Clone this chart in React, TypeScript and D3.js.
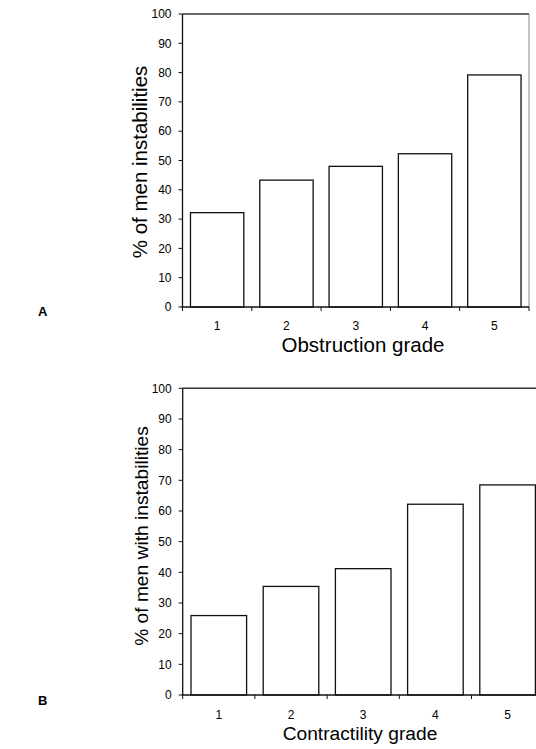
import React from "react";
import * as d3 from "d3";

const categoriesA = ["1", "2", "3", "4", "5"];
const valuesA = [32.2, 43.3, 48.0, 52.3, 79.2];
const categoriesB = ["1", "2", "3", "4", "5"];
const valuesB = [25.9, 35.4, 41.2, 62.2, 68.5];
const yTicks = [0, 10, 20, 30, 40, 50, 60, 70, 80, 90, 100];

type PanelProps = {
  cats: string[];
  vals: number[];
  x0: number;
  x1: number;
  yTop: number;
  yBot: number;
  yTitle: string;
  xTitle: string;
  yTitleX: number;
  yTitleCy: number;
  xTitleX: number;
  xTitleY: number;
  tickLabelY: number;
  titleSize: number;
};

const FONT = "'Liberation Sans', Arial, sans-serif";

function Panel(p: PanelProps) {
  const x = d3.scaleBand<string>().domain(p.cats).range([p.x0, p.x1]).paddingInner(0.23).paddingOuter(0.115);
  const xb = d3.scaleBand<string>().domain(p.cats).range([p.x0, p.x1]);
  const y = d3.scaleLinear().domain([0, 100]).range([p.yBot, p.yTop]);
  const boundaries = p.cats.map((c) => xb(c) as number).concat([p.x1]);
  return (
    <g fontFamily={FONT} fill="#000">
      {p.cats.map((c, i) => (
        <rect
          key={c}
          x={x(c)}
          y={y(p.vals[i])}
          width={x.bandwidth()}
          height={y(0) - y(p.vals[i])}
          fill="#fff"
          stroke="#111"
          strokeWidth={1.3}
        />
      ))}
      <line x1={p.x0} x2={p.x1} y1={p.yTop} y2={p.yTop} stroke="#333" strokeWidth={1.4} />
      <line x1={p.x1} x2={p.x1} y1={p.yTop} y2={p.yBot} stroke="#888" strokeWidth={1} />
      <line x1={p.x0} x2={p.x0} y1={p.yTop} y2={p.yBot} stroke="#111" strokeWidth={1.3} />
      <line x1={p.x0 - 1} x2={p.x1} y1={p.yBot} y2={p.yBot} stroke="#111" strokeWidth={1.3} />
      {yTicks.map((t) => (
        <g key={t}>
          <line x1={p.x0 - 4} x2={p.x0} y1={y(t)} y2={y(t)} stroke="#111" strokeWidth={1} />
          <text x={p.x0 - 11} y={y(t)} dy="0.35em" textAnchor="end" fontSize={12}>
            {t}
          </text>
        </g>
      ))}
      {boundaries.map((b, i) => (
        <line key={i} x1={b} x2={b} y1={p.yBot} y2={p.yBot + 4} stroke="#111" strokeWidth={1} />
      ))}
      {p.cats.map((c) => (
        <text key={c} x={(xb(c) as number) + xb.bandwidth() / 2} y={p.tickLabelY} textAnchor="middle" fontSize={12}>
          {c}
        </text>
      ))}
      <text
        transform={`translate(${p.yTitleX},${p.yTitleCy}) rotate(-90)`}
        textAnchor="middle"
        fontSize={p.titleSize}
      >
        {p.yTitle}
      </text>
      <text x={p.xTitleX} y={p.xTitleY} textAnchor="middle" fontSize={p.titleSize}>
        {p.xTitle}
      </text>
    </g>
  );
}

export default function App() {
  return (
    <svg
      width={536}
      height={749}
      style={{ position: "absolute", left: 0, top: 0, background: "#fff" }}
    >
      <rect width={536} height={749} fill="#fff" />
      <Panel
        cats={categoriesA}
        vals={valuesA}
        x0={182.5}
        x1={529}
        yTop={14}
        yBot={307}
        yTitle="% of men instabilities"
        xTitle="Obstruction grade"
        yTitleX={146.5}
        yTitleCy={162}
        xTitleX={363}
        xTitleY={352}
        tickLabelY={330}
        titleSize={20.5}
      />
      <Panel
        cats={categoriesB}
        vals={valuesB}
        x0={182.7}
        x1={543.7}
        yTop={388.3}
        yBot={695}
        yTitle="% of men with instabilities"
        xTitle="Contractility grade"
        yTitleX={148}
        yTitleCy={536}
        xTitleX={360}
        xTitleY={740}
        tickLabelY={718.5}
        titleSize={19.2}
      />
      <text x={38} y={316} fontFamily={FONT} fontSize={13} fontWeight="bold">A</text>
      <text x={38} y={705} fontFamily={FONT} fontSize={13} fontWeight="bold">B</text>
    </svg>
  );
}
